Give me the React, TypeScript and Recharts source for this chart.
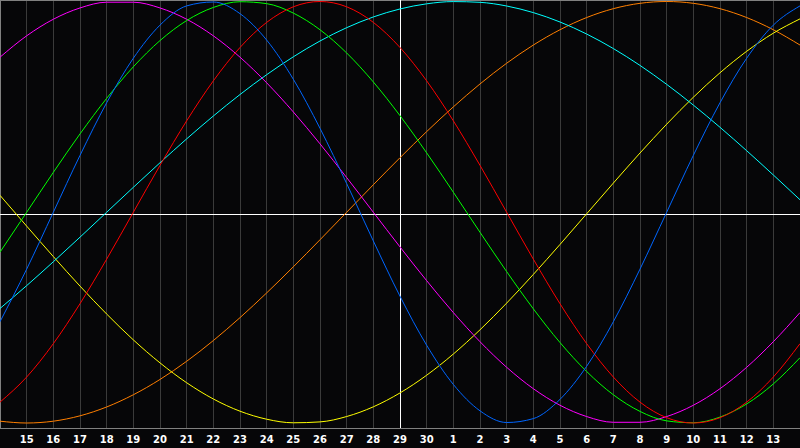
import React from 'react';
import { LineChart, Line, XAxis, YAxis, CartesianGrid, ReferenceLine } from 'recharts';

const days = [0,1,2,3,4,5,6,7,8,9,10,11,12,13,14,15,16,17,18,19,20,21,22,23,24,25,26,27,28,29,30];
const tickDays = [1,2,3,4,5,6,7,8,9,10,11,12,13,14,15,16,17,18,19,20,21,22,23,24,25,26,27,28,29];
const tickLabels = ['15','16','17','18','19','20','21','22','23','24','25','26','27','28','29','30','1','2','3','4','5','6','7','8','9','10','11','12','13'];

const blue = [-0.5196,-0.2698,0,0.2698,0.5196,0.7308,0.8879,0.9791,0.9977,0.9423,0.817,0.6311,0.3984,0.1362,-0.1362,-0.3984,-0.6311,-0.817,-0.9423,-0.9977,-0.9791,-0.8879,-0.7308,-0.5196,-0.2698,0,0.2698,0.5196,0.7308,0.8879,0.9791];
const red = [-0.901,-0.7818,-0.6235,-0.4339,-0.2225,0,0.2225,0.4339,0.6235,0.7818,0.901,0.9749,1,0.9749,0.901,0.7818,0.6235,0.4339,0.2225,0,-0.2225,-0.4339,-0.6235,-0.7818,-0.901,-0.9749,-1,-0.9749,-0.901,-0.7818,-0.6235];
const green = [-0.1893,0,0.1893,0.3717,0.5406,0.6901,0.8146,0.9096,0.9718,0.9989,0.9898,0.945,0.866,0.7557,0.6182,0.4582,0.2817,0.0951,-0.0951,-0.2817,-0.4582,-0.6182,-0.7557,-0.866,-0.945,-0.9898,-0.9989,-0.9718,-0.9096,-0.8146,-0.6901];
const magenta = [0.7357,0.8372,0.9158,0.9694,0.9966,0.9966,0.9694,0.9158,0.8372,0.7357,0.6142,0.4759,0.3247,0.1646,0,-0.1646,-0.3247,-0.4759,-0.6142,-0.7357,-0.8372,-0.9158,-0.9694,-0.9966,-0.9966,-0.9694,-0.9158,-0.8372,-0.7357,-0.6142,-0.4759];
const yellow = [0.0802,-0.0658,-0.2103,-0.3504,-0.483,-0.6056,-0.7147,-0.809,-0.886,-0.944,-0.982,-0.999,-0.9948,-0.9693,-0.9232,-0.8573,-0.7733,-0.6728,-0.5578,-0.431,-0.295,-0.1528,-0.0073,0.1383,0.2811,0.4178,0.5457,0.6618,0.7637,0.8497,0.9175];
const orange = [-0.9914,-1,-0.9914,-0.9659,-0.9239,-0.866,-0.7934,-0.7071,-0.6088,-0.5,-0.3827,-0.2588,-0.1305,0,0.1305,0.2588,0.3827,0.5,0.6088,0.7071,0.7934,0.866,0.9239,0.9659,0.9914,1,0.9914,0.9659,0.9239,0.866,0.7934];
const cyan = [-0.4566,-0.3482,-0.2349,-0.1183,0,0.1183,0.2349,0.3482,0.4566,0.5586,0.6527,0.7376,0.8126,0.8758,0.9267,0.9646,0.989,0.9996,0.9961,0.9786,0.9473,0.9028,0.8457,0.7767,0.6967,0.6069,0.5085,0.4031,0.2921,0.1769,0.0593];

const data = days.map((d, i) => ({
  d,
  blue: blue[i],
  red: red[i],
  green: green[i],
  magenta: magenta[i],
  yellow: yellow[i],
  orange: orange[i],
  cyan: cyan[i],
}));

const Y_MAX = 1.00712;
const Y_MIN = -1.02609;
const MID = -0.01067;

const series: [string, string][] = [
  ['orange', '#ff7f00'],
  ['yellow', '#ffff00'],
  ['cyan', '#00ffff'],
  ['magenta', '#ff00ff'],
  ['green', '#00ff00'],
  ['red', '#ff0000'],
  ['blue', '#0066ff'],
];

export default function App() {
  return (
    <div style={{ position: 'fixed', left: 0, top: 0, width: 800, height: 448, background: '#060608' }}>
      <LineChart width={800} height={448} data={data} margin={{ top: 0, right: 0, left: 0, bottom: 0 }} accessibilityLayer={false}>
        <CartesianGrid horizontal={false} stroke="#3a3a3a" strokeDasharray="" shapeRendering="crispEdges" />
        <XAxis
          dataKey="d"
          type="number"
          domain={[0, 30]}
          ticks={tickDays}
          interval={0}
          height={19.5}
          tickLine={false}
          tickMargin={1}
          axisLine={{ stroke: '#808080' }}
          tick={{ fill: '#ffffff', fontSize: 10, fontWeight: 'bold', fontFamily: 'DejaVu Sans' }}
          tickFormatter={(v: number) => tickLabels[v - 1] ?? ''}
        />
        <YAxis hide domain={[Y_MIN, Y_MAX]} type="number" allowDataOverflow />
        <ReferenceLine x={0} stroke="#808080" strokeWidth={2} />
        <ReferenceLine y={Y_MAX} stroke="#808080" strokeWidth={2} />
        <ReferenceLine y={MID} stroke="#ffffff" shapeRendering="crispEdges" />
        <ReferenceLine x={15} stroke="#ffffff" shapeRendering="crispEdges" />
        {series.map(([k, c]) => (
          <Line key={k} dataKey={k} type="monotone" stroke={c} strokeWidth={1} dot={false} activeDot={false} isAnimationActive={false} />
        ))}
      </LineChart>
    </div>
  );
}
